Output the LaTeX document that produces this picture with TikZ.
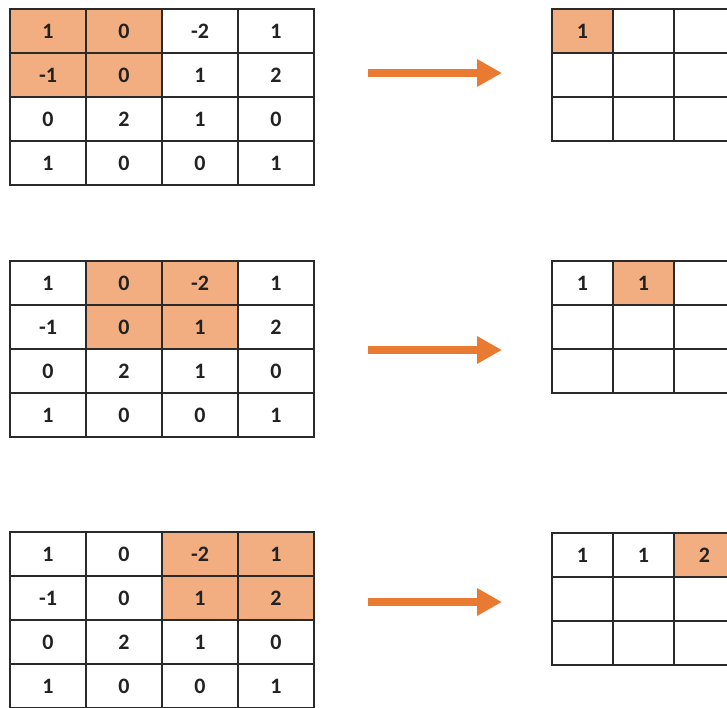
\documentclass[tikz,border=0pt]{standalone}
\usepackage{fontspec}
\setmainfont{Carlito}
\usetikzlibrary{arrows.meta}
\definecolor{hl}{HTML}{F2AE80}
\definecolor{arr}{HTML}{E97A32}
\definecolor{ln}{HTML}{2A2A2A}
\definecolor{txt}{HTML}{222222}
\begin{document}
\begin{tikzpicture}[x=1pt,y=-1pt,
  cellbase/.style={draw=ln,line width=1.5pt,inner sep=0pt,minimum height=44pt,
    font=\fontsize{22}{22}\selectfont\bfseries,text=txt},
  cellL/.style={cellbase,minimum width=76pt},
  cellR/.style={cellbase,minimum width=61pt},
  bigarrow/.style={draw=arr,line width=8pt,-{Triangle[length=25pt,width=26pt]}}]
\useasboundingbox (0,0) rectangle (727,708);
\path[clip] (0,0) rectangle (727,708);
\fill[white] (0,0) rectangle (727,708);
% left 4x4 grids
\foreach \g/\top in {1/9,2/261,3/532}{
  \foreach \row [count=\r] in {{1,0,-2,1},{-1,0,1,2},{0,2,1,0},{1,0,0,1}}{
    \foreach \v [count=\c] in \row {
      \pgfmathtruncatemacro\hflag{(\r<3)&&(\c>=\g)&&(\c<=\g+1)}
      \ifnum\hflag=1 \def\fc{hl}\else\def\fc{white}\fi
      \node[cellL,fill=\fc] (L\g-\r-\c) at ({10+76*(\c-0.5)},{\top+44*(\r-0.5)}) {\v};
    }
  }
}
% right 3x3 grids
\foreach \g/\top in {1/9,2/261,3/533}{
  \foreach \r in {1,2,3}{
    \foreach \c in {1,2,3}{
      \pgfmathtruncatemacro\hflag{(\r==1)&&(\c==\g)}
      \ifnum\hflag=1 \def\fc{hl}\else\def\fc{white}\fi
      \pgfmathtruncatemacro\show{(\r==1)&&(\c<=\g)}
      \node[cellR,fill=\fc] (R\g-\r-\c) at ({552+61*(\c-0.5)},{\top+44*(\r-0.5)})
        {\ifnum\show=1 \ifcase\c\or 1\or 1\or 2\fi\fi};
    }
  }
}
% arrows
\coordinate (A1s) at (368,73);  \coordinate (A1e) at (502,73);
\coordinate (A2s) at (368,350); \coordinate (A2e) at (502,350);
\coordinate (A3s) at (368,602); \coordinate (A3e) at (502,602);
\draw[bigarrow] (A1s) -- (A1e);
\draw[bigarrow] (A2s) -- (A2e);
\draw[bigarrow] (A3s) -- (A3e);
\end{tikzpicture}
\end{document}
